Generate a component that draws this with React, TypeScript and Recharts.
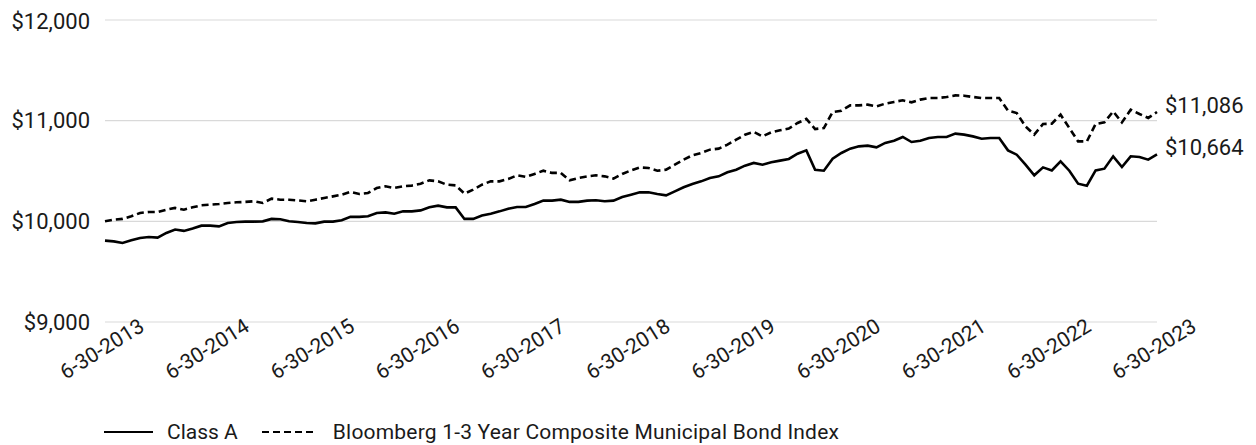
import React from 'react';
import { LineChart, Line, XAxis, YAxis, CartesianGrid, Legend } from 'recharts';

const classA = [
  9808, 9801, 9785, 9811, 9835, 9845, 9838, 9885, 9918, 9905,
  9928, 9957, 9957, 9950, 9984, 9994, 9997, 9997, 10000, 10024,
  10020, 10000, 9994, 9984, 9980, 9997, 9997, 10010, 10044, 10044,
  10050, 10083, 10089, 10076, 10099, 10099, 10109, 10139, 10156, 10139,
  10139, 10024, 10024, 10057, 10076, 10099, 10126, 10143, 10143, 10173,
  10206, 10206, 10215, 10193, 10193, 10206, 10209, 10199, 10206, 10242,
  10265, 10288, 10288, 10272, 10258, 10298, 10338, 10371, 10397, 10431,
  10447, 10487, 10513, 10553, 10580, 10563, 10586, 10603, 10620, 10672,
  10705, 10513, 10503, 10623, 10679, 10722, 10745, 10752, 10735, 10779,
  10801, 10838, 10788, 10801, 10828, 10838, 10838, 10871, 10861, 10844,
  10821, 10828, 10828, 10705, 10662, 10563, 10457, 10536, 10506, 10596,
  10503, 10374, 10354, 10506, 10523, 10646, 10540, 10646, 10639, 10613,
  10664,
];

const bloombergIndex = [
  10000, 10017, 10024, 10050, 10083, 10093, 10093, 10116, 10133, 10116,
  10139, 10159, 10166, 10172, 10182, 10189, 10193, 10199, 10182, 10225,
  10215, 10215, 10208, 10199, 10215, 10232, 10248, 10265, 10292, 10272,
  10282, 10331, 10348, 10331, 10348, 10355, 10374, 10407, 10397, 10364,
  10357, 10275, 10315, 10364, 10397, 10397, 10421, 10457, 10441, 10471,
  10503, 10481, 10481, 10407, 10431, 10447, 10457, 10447, 10424, 10471,
  10506, 10536, 10530, 10503, 10513, 10563, 10613, 10655, 10679, 10712,
  10722, 10762, 10811, 10861, 10888, 10844, 10884, 10904, 10921, 10977,
  11017, 10917, 10927, 11086, 11099, 11152, 11152, 11159, 11142, 11169,
  11186, 11202, 11182, 11209, 11225, 11225, 11235, 11251, 11248, 11235,
  11225, 11225, 11225, 11099, 11076, 10943, 10861, 10967, 10970, 11060,
  10927, 10794, 10794, 10967, 10983, 11092, 10983, 11109, 11066, 11027,
  11086,
];

const tickLabels = [
  '6-30-2013', '6-30-2014', '6-30-2015', '6-30-2016', '6-30-2017', '6-30-2018',
  '6-30-2019', '6-30-2020', '6-30-2021', '6-30-2022', '6-30-2023',
];

const yTicks = [9000, 10000, 11000, 12000];

// month-end category labels, June 2013 .. June 2023
const months: string[] = [];
for (let k = 0; k < classA.length; k++) {
  const mIdx = 5 + k;
  const year = 2013 + Math.floor(mIdx / 12);
  const month = (mIdx % 12) + 1;
  const lastDay = new Date(year, month, 0).getDate();
  months.push(`${month}-${lastDay}-${year}`);
}

const data = months.map((date, i) => ({
  date,
  classA: classA[i],
  index: bloombergIndex[i],
}));

const FONT = 'Roboto, sans-serif';
const TEXT = '#1a1a1a';
const fmt = (v: number) => `$${v.toLocaleString('en-US')}`;

const XTick = (props: any) => {
  const { x, y, payload } = props;
  const cx = x - 3;
  const cy = y + 27;
  return (
    <text
      x={cx}
      y={cy}
      textAnchor="middle"
      dominantBaseline="central"
      transform={`rotate(-32, ${cx}, ${cy})`}
      fontFamily={FONT}
      fontSize={21}
      fill={TEXT}
    >
      {payload.value}
    </text>
  );
};

const endLabel = (props: any) => {
  const { x, y, index, value } = props;
  if (index !== data.length - 1) return <g />;
  return (
    <text
      x={x + 8}
      y={y - 7}
      dominantBaseline="central"
      fontFamily={FONT}
      fontSize={22}
      fill={TEXT}
    >
      {fmt(value)}
    </text>
  );
};

const LegendContent = () => (
  <div
    style={{
      height: 26,
      display: 'flex',
      alignItems: 'center',
      paddingLeft: 96,
      fontFamily: FONT,
      fontSize: 21,
      color: TEXT,
      whiteSpace: 'nowrap',
    }}
  >
    <svg width={49} height={10}>
      <line x1={0} y1={5} x2={49} y2={5} stroke="#000" strokeWidth={2.2} />
    </svg>
    <span style={{ marginLeft: 14 }}>Class A</span>
    <svg width={51} height={10} style={{ marginLeft: 24 }}>
      <line x1={0} y1={5} x2={51} y2={5} stroke="#000" strokeWidth={2.2} strokeDasharray="7 4" />
    </svg>
    <span style={{ marginLeft: 20, letterSpacing: 0.2 }}>
      Bloomberg 1-3 Year Composite Municipal Bond Index
    </span>
  </div>
);

export default function App() {
  return (
    <LineChart
      width={1240}
      height={437}
      data={data}
      margin={{ top: 12, right: 91, left: 0, bottom: 0 }}
    >
      <CartesianGrid horizontal vertical={false} stroke="#d9d9d9" strokeWidth={1.2} />
      <XAxis
        dataKey="date"
        ticks={tickLabels}
        interval={0}
        axisLine={false}
        tickLine={false}
        tickSize={0}
        tickMargin={0}
        height={97}
        tick={<XTick />}
      />
      <YAxis
        domain={[9000, 12000]}
        ticks={yTicks}
        tickFormatter={fmt}
        axisLine={false}
        tickLine={false}
        tickSize={0}
        tickMargin={15}
        width={97}
        tick={{ fontFamily: FONT, fontSize: 22, fill: TEXT }}
      />
      <Legend verticalAlign="bottom" content={<LegendContent />} />
      <Line
        type="linear"
        dataKey="classA"
        stroke="#000"
        strokeWidth={2.6}
        dot={false}
        isAnimationActive={false}
        label={endLabel}
      />
      <Line
        type="linear"
        dataKey="index"
        stroke="#000"
        strokeWidth={2.6}
        strokeDasharray="7 4"
        dot={false}
        isAnimationActive={false}
        label={endLabel}
      />
    </LineChart>
  );
}
